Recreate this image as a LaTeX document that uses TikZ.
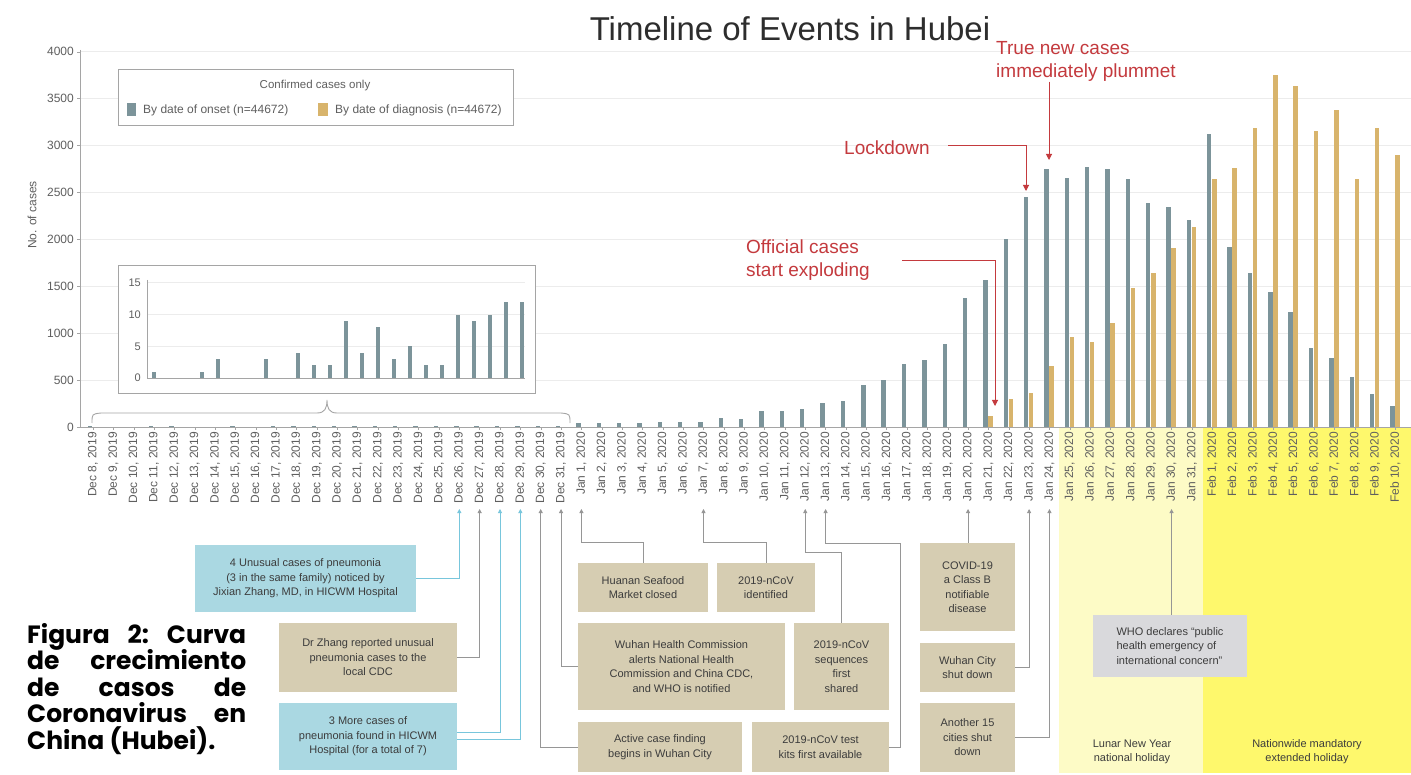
\documentclass[tikz,border=0pt]{standalone}
\usepackage{fontspec}
\setmainfont{Liberation Sans}
\newfontfamily\capfont{Poppins}
\usetikzlibrary{arrows.meta}
\definecolor{onsetc}{RGB}{124,148,154}
\definecolor{diagc}{RGB}{216,180,108}
\definecolor{tanc}{RGB}{214,205,178}
\definecolor{bluec}{RGB}{170,216,226}
\definecolor{bluel}{RGB}{120,198,220}
\definecolor{whoc}{RGB}{217,217,220}
\definecolor{redc}{RGB}{196,58,62}
\definecolor{gridc}{RGB}{236,236,236}
\definecolor{axisc}{RGB}{165,165,165}
\definecolor{labc}{RGB}{95,95,95}
\definecolor{boxt}{RGB}{60,60,60}
\definecolor{conc}{RGB}{150,150,150}
\definecolor{lyel}{RGB}{253,251,198}
\definecolor{byel}{RGB}{254,248,108}
\definecolor{titc}{RGB}{45,45,45}
\begin{document}
\begin{tikzpicture}[x=1pt,y=-1pt,
  chartlab/.style={font=\fontsize{12}{14}\selectfont, text=labc, inner sep=0pt},
  datelab/.style={chartlab, rotate=90, anchor=east},
  tanbox/.style={fill=tanc, align=center, text=boxt, font=\fontsize{11}{14.5}\selectfont, inner sep=1pt},
  bluebox/.style={tanbox, fill=bluec},
  whobox/.style={tanbox, fill=whoc, align=left},
  holtxt/.style={align=center, text=boxt, font=\fontsize{11}{14}\selectfont, inner sep=0pt},
  con/.style={draw=conc, line width=0.8pt, -{Triangle[width=4pt,length=4pt]}},
  bcon/.style={con, draw=bluel},
  redtxt/.style={font=\fontsize{19}{23}\selectfont, text=redc, inner sep=0pt},
  redarr/.style={draw=redc, line width=1pt, -{Triangle[width=6pt,length=6pt]}},
  capsty/.style={font=\capfont\bfseries\fontsize{25}{27}\selectfont, inner sep=0pt, anchor=base west}
]
\useasboundingbox (0,0) rectangle (1411,775);
\fill[white] (0,0) rectangle (1411,775);

% holiday backgrounds
\fill[lyel] (1059,428) rectangle (1203,773);
\fill[byel] (1203,428) rectangle (1411,773);

% grid and axes
\foreach \k in {1,...,8} {
  \draw[gridc, line width=1pt] (80,{427-46.9*\k}) -- (1411,{427-46.9*\k});
  \draw[axisc] (77,{427-46.9*\k}) -- (80,{427-46.9*\k});
}
\draw[axisc, line width=0.8pt] (80,50) -- (80,427);
\draw[axisc, line width=0.8pt] (77,427) -- (1411,427);
\foreach \k/\t in {0/0,1/500,2/1000,3/1500,4/2000,5/2500,6/3000,7/3500,8/4000}
  \node[chartlab, anchor=east] (yt\k) at (74,{427-46.9*\k}) {\t};
\node[chartlab, rotate=90] (ylab) at (32,215) {No. of cases};

% title
\node[font=\fontsize{33}{36}\selectfont, text=titc, anchor=base, inner sep=0pt] (title) at (790,41) {Timeline of Events in Hubei};

% legend
\node[draw=axisc, fill=white, minimum width=395pt, minimum height=56pt, inner sep=0pt] (legend) at (315.5,97) {};
\node[chartlab, font=\fontsize{11.5}{13}\selectfont] (legt) at (315,86) {Confirmed cases only};
\node[fill=onsetc, minimum width=9pt, minimum height=13pt, inner sep=0pt] (sw1) at (131,110) {};
\node[chartlab, anchor=west] (lg1) at (143,110) {By date of onset (n=44672)};
\node[fill=diagc, minimum width=10pt, minimum height=13pt, inner sep=0pt] (sw2) at (323,110) {};
\node[chartlab, anchor=west] (lg2) at (335,110) {By date of diagnosis (n=44672)};

% main bars: tiny December values
\foreach \s/\v in {0/1,3/1,4/3,7/3,9/4,10/2,11/2,12/9,13/4,14/8,15/3,16/5,17/2,18/2,19/10,20/9,21/10,22/12,23/12}
  \fill[onsetc] ({90+20.35*\s-2.2},427) rectangle ({90+20.35*\s+2.2},{427-max(1.2,0.0938*\v)});
% onset bars
\foreach \i/\v in {24/43,25/43,26/43,27/43,28/53,29/53,30/53,31/100,32/89,33/170,34/170,35/195,36/260,37/277,38/444,39/505,40/668,41/711,42/888,43/1380,44/1565,45/2005,46/2450,47/2750,48/2650,49/2770,50/2750,51/2640,52/2390,53/2345,54/2205,55/3125,56/1920,57/1640,58/1440,59/1225,60/840,61/735,62/530,63/350,64/225,65/130}
  \fill[onsetc] ({90+20.35*\i-2.2},427) rectangle ({90+20.35*\i+2.2},{427-0.0938*\v});
% diagnosis bars
\foreach \i/\v in {44/114,45/300,46/360,47/650,48/960,49/905,50/1110,51/1480,52/1640,53/1910,54/2130,55/2645,56/2760,57/3190,58/3750,59/3635,60/3155,61/3380,62/2645,63/3190,64/2900}
  \fill[diagc] ({90+20.35*\i+2.8},427) rectangle ({90+20.35*\i+7.3},{427-0.0938*\v});

% inset
\node[draw=axisc, fill=white, minimum width=417pt, minimum height=128pt, inner sep=0pt] (inset) at (326.5,329) {};
\foreach \k in {1,2,3}
  \draw[gridc, line width=1pt] (147,{378-31.67*\k}) -- (525,{378-31.67*\k});
\draw[axisc] (147,280) -- (147,378) -- (525,378);
\foreach \k/\t in {0/0,1/5,2/10,3/15}
  \node[chartlab, font=\fontsize{11}{13}\selectfont, anchor=east] (it\k) at (141,{378-31.67*\k}) {\t};
\foreach \s/\v in {0/1,3/1,4/3,7/3,9/4,10/2,11/2,12/9,13/4,14/8,15/3,16/5,17/2,18/2,19/10,20/9,21/10,22/12,23/12}
  \fill[onsetc] ({154.3+16*\s-2},378) rectangle ({154.3+16*\s+2},{378-6.33*\v});
% brace
\draw[axisc, line width=0.9pt] (92,423) .. controls (92,414) .. (101,413) -- (317,413)
  .. controls (325,413) and (327,408) .. (327,400)
  .. controls (327,408) and (329,413) .. (337,413) -- (561,413)
  .. controls (570,414) .. (570,423);

% date labels and ticks
\foreach \d in {8,...,31} {
  \draw[axisc] ({93+20.35*(\d-8)},427) -- ({93+20.35*(\d-8)},430);
  \node[datelab] (dec\d) at ({93+20.35*(\d-8)},432) {Dec \d, 2019};
}
\foreach \d in {1,...,31} {
  \draw[axisc] ({93+20.35*(\d+23)},427) -- ({93+20.35*(\d+23)},430);
  \node[datelab] (jan\d) at ({93+20.35*(\d+23)},432) {Jan \d, 2020};
}
\foreach \d in {1,...,10} {
  \draw[axisc] ({93+20.35*(\d+54)},427) -- ({93+20.35*(\d+54)},430);
  \node[datelab] (feb\d) at ({93+20.35*(\d+54)},432) {Feb \d, 2020};
}

% red annotations
\node[redtxt, anchor=west, align=left] (tnc) at (996,61.5) {True new cases\\immediately plummet};
\coordinate (tip24) at (1049,160);
\draw[redarr] (tnc.south -| tip24) -- (tip24);
\node[redtxt] (lock) at (887,148) {Lockdown};
\coordinate (lockL) at (948,146);
\coordinate (tip23) at (1026,191);
\draw[redarr] (lockL) -| (tip23);
\node[redtxt, anchor=west, align=left] (off) at (746,260) {Official cases\\start exploding};
\coordinate (offL) at (902,261);
\coordinate (tip21) at (995,406);
\draw[redarr] (offL) -| (tip21);

% event boxes
\node[bluebox, minimum width=221pt, minimum height=67pt] (b1) at (305.5,578.5) {4 Unusual cases of pneumonia\\(3 in the same family) noticed by\\Jixian Zhang, MD, in HICWM Hospital};
\node[tanbox, minimum width=178pt, minimum height=69pt] (b2) at (368,657.5) {Dr Zhang reported unusual\\pneumonia cases to the\\local CDC};
\node[bluebox, minimum width=178pt, minimum height=67pt] (b3) at (368,736.5) {3 More cases of\\pneumonia found in HICWM\\Hospital (for a total of 7)};
\node[tanbox, minimum width=130pt, minimum height=49pt] (huanan) at (643,587.5) {Huanan Seafood\\Market closed};
\node[tanbox, minimum width=98pt, minimum height=49pt] (ncov) at (766,587.5) {2019-nCoV\\identified};
\node[tanbox, minimum width=207pt, minimum height=87pt] (whc) at (681.5,666.5) {Wuhan Health Commission\\alerts National Health\\Commission and China CDC,\\and WHO is notified};
\node[tanbox, minimum width=95pt, minimum height=87pt] (seq) at (841.5,666.5) {2019-nCoV\\sequences\\first\\shared};
\node[tanbox, minimum width=164pt, minimum height=50pt] (active) at (660,747) {Active case finding\\begins in Wuhan City};
\node[tanbox, minimum width=137pt, minimum height=50pt] (tk) at (820.5,747) {2019-nCoV test\\kits first available};
\node[tanbox, minimum width=95pt, minimum height=88pt] (covid) at (967.5,587) {COVID-19\\a Class B\\notifiable\\disease};
\node[tanbox, minimum width=95pt, minimum height=49pt] (ws) at (967.5,667.5) {Wuhan City\\shut down};
\node[tanbox, minimum width=95pt, minimum height=69pt] (an) at (967.5,737.5) {Another 15\\cities shut\\down};
\node[whobox, minimum width=154pt, minimum height=62pt] (who) at (1170,646) {WHO declares “public\\health emergency of\\international concern”};
\node[holtxt] (lny) at (1132,752) {Lunar New Year\\national holiday};
\node[holtxt] (nmh) at (1307,752) {Nationwide mandatory\\extended holiday};

% connector end points at the date labels
\coordinate (pD26) at ({93+20.35*18},509);
\coordinate (pD27) at ({93+20.35*19},509);
\coordinate (pD28) at ({93+20.35*20},509);
\coordinate (pD29) at ({93+20.35*21},509);
\coordinate (pD30) at ({93+20.35*22},509);
\coordinate (pD31) at ({93+20.35*23},509);
\coordinate (pJ1) at ({93+20.35*24},509);
\coordinate (pJ7) at ({93+20.35*30},509);
\coordinate (pJ12) at ({93+20.35*35},509);
\coordinate (pJ13) at ({93+20.35*36},509);
\coordinate (pJ20) at ({93+20.35*43},509);
\coordinate (pJ23) at ({93+20.35*46},509);
\coordinate (pJ24) at ({93+20.35*47},509);
\coordinate (pJ30) at ({93+20.35*53},509);
\coordinate (k13) at (900,543);

\draw[bcon] (b1.east) -| (pD26);
\draw[con] (b2.east) -| (pD27);
\draw[bcon] ([yshift=4.5pt]b3.east) -| (pD28);
\draw[bcon] ([yshift=-2.5pt]b3.east) -| (pD29);
\draw[con] (active.west) -| (pD30);
\draw[con] (whc.west) -| (pD31);
\draw[con] (huanan.north) -- ++(0,-20) -| (pJ1);
\draw[con] (ncov.north) -- ++(0,-20) -| (pJ7);
\draw[con] (seq.north) -- ++(0,-70) -| (pJ12);
\draw[con] (tk.east) -| (k13) -| (pJ13);
\draw[con] (pJ20 |- covid.north) -- (pJ20);
\draw[con] (ws.east) -| (pJ23);
\draw[con] (an.east) -| (pJ24);
\draw[con] (pJ30 |- who.north) -- (pJ30);

% caption
\node[capsty] (cap1) at (27,643) {\hbox to 219pt{Figura\hfill 2:\hfill Curva}};
\node[capsty] (cap2) at (27,669.5) {\hbox to 219pt{de\hfill crecimiento}};
\node[capsty] (cap3) at (27,696) {\hbox to 219pt{de\hfill casos\hfill de}};
\node[capsty] (cap4) at (27,722.5) {\hbox to 219pt{Coronavirus\hfill en}};
\node[capsty] (cap5) at (27,749) {China (Hubei).};
\end{tikzpicture}
\end{document}
